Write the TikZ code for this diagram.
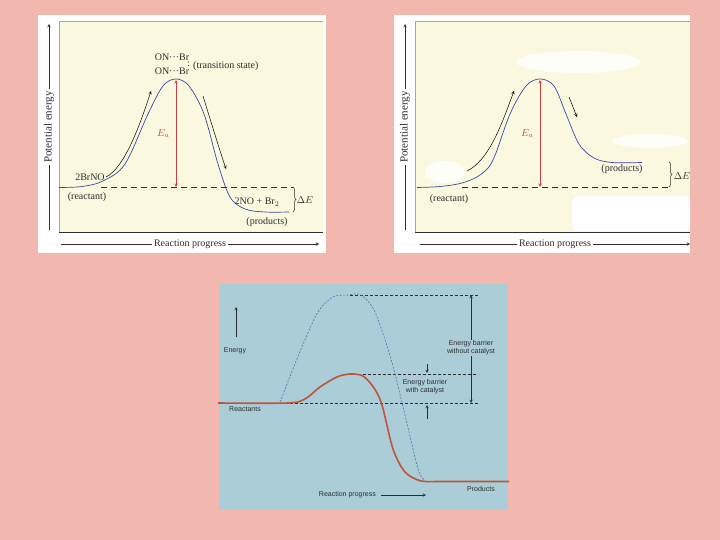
\documentclass[tikz,border=0pt]{standalone}
\usepackage{fontspec}
\setmainfont{Liberation Serif}
\setsansfont{Liberation Sans}
\usetikzlibrary{positioning,arrows,calc,decorations.pathreplacing}

\definecolor{slidebg}{RGB}{242,184,176}
\definecolor{creambg}{RGB}{251,248,224}
\definecolor{panelblue}{RGB}{170,205,215}
\definecolor{curveblue}{RGB}{55,75,165}
\definecolor{eared}{RGB}{195,65,70}
\definecolor{catred}{RGB}{190,85,60}
\definecolor{inkgray}{RGB}{45,45,45}

\begin{document}
\begin{tikzpicture}[x=1pt,y=-1pt,
  axisline/.style={->,>=stealth,line width=0.5pt,inkgray},
  axislab/.style={fill=white,inner sep=2pt,font=\fontsize{10}{11}\selectfont,text=inkgray},
  yaxislab/.style={axislab,rotate=90,font=\fontsize{11}{12}\selectfont},
  curve/.style={curveblue,line width=0.7pt},
  lvl/.style={inkgray,line width=0.9pt,dash pattern=on 6pt off 4pt},
  ea/.style={<->,>=stealth,eared,line width=0.6pt},
  move/.style={->,>=stealth,line width=0.5pt,black},
  lab/.style={font=\fontsize{10}{11}\selectfont,text=inkgray,inner sep=1pt},
  dbrace/.style={decorate,decoration={brace,amplitude=3pt},inkgray,line width=0.5pt},
  sflab/.style={font=\sffamily\fontsize{7}{8}\selectfont,text=inkgray,align=center,inner sep=1pt},
  cutline/.style={inkgray,line width=0.5pt,dash pattern=on 3pt off 2pt},
  barrier/.style={->,>=stealth,line width=0.5pt,inkgray},
]

\fill[slidebg] (0,0) rectangle (720,540);
\useasboundingbox (0,0) rectangle (720,540);

% === PANEL 1: exothermic, 2BrNO ===
\fill[white] (38,15) rectangle (326,253);
\fill[creambg] (59,21) rectangle (323,232);
\draw[gray!70,line width=0.4pt] (59,232) -- (59,21) -- (323,21);
\draw[inkgray,line width=0.8pt] (59,232) -- (323,232);

\coordinate (ybot1) at (49,230);
\coordinate (ytop1) at (49,24);
\coordinate (xlft1) at (61,244);
\coordinate (xrgt1) at (319,244);
\draw[axisline] (ybot1) -- node[yaxislab] {Potential energy} (ytop1);
\draw[axisline] (xlft1) -- node[axislab] {Reaction progress} (xrgt1);

\draw[curve] plot[smooth,tension=0.55] coordinates {(59,187.5) (82,186.5) (103,181) (125,164) (148,114) (163,86) (176,79) (189,86) (204,114) (218,164) (230,197) (245,209) (265,212) (289,212)};
\coordinate (top1) at (176,80);
\coordinate (base1) at (176,187);
\coordinate (lvlA1) at (101,187);
\coordinate (lvlB1) at (293,187);
\draw[lvl] (lvlA1) -- (lvlB1);
\draw[ea] (base1) -- node[left=3pt,pos=0.5,text=eared,font=\fontsize{10}{11}\selectfont] {$E_a$} (top1);

\coordinate (up1s) at (106,177);
\coordinate (up1e) at (151,91);
\coordinate (dn1s) at (203,96);
\coordinate (dn1e) at (226,169);
\draw[move] (up1s) .. controls (124,168) and (139,128) .. (up1e);
\draw[move] (dn1s) .. controls (211,122) and (219,148) .. (dn1e);

\node[lab] (ts1) at (172,57) {ON···Br};
\node[lab] (ts2) at (172,71) {ON···Br};
\node[lab,inner sep=0pt] (tsdot) at (188.5,64.5) {:};
\node[lab,anchor=west] (tslab) at (192,66) {(transition state)};
\node[lab] (reag1) at (90,177) {2BrNO};
\node[lab] (reac1) at (87,197) {(reactant)};
\node[lab] (prod1) at (257,202) {2NO + Br$_2$};
\node[lab] (prodl1) at (267,222) {(products)};

\coordinate (dEt1) at (293,187);
\coordinate (dEb1) at (293,212);
\draw[dbrace] (dEt1) -- (dEb1);
\node[lab] (dE1) at (305,200) {$\Delta E$};

% === PANEL 2: endothermic ===
\fill[white] (394,15) rectangle (690,253);
\fill[creambg] (415,21) rectangle (690,232);
\draw[gray!70,line width=0.4pt] (415,232) -- (415,21) -- (690,21);

% erased patches
\fill[white!80!creambg] (578,62) ellipse (62pt and 11pt);
\fill[white!80!creambg] (445,172) ellipse (20pt and 11pt);
\fill[white!80!creambg] (650,141) ellipse (38pt and 7pt);
\fill[white,rounded corners=6pt] (572,196) rectangle (690,231);
\draw[inkgray,line width=0.8pt] (415,232) -- (690,232);

\coordinate (ybot2) at (405,230);
\coordinate (ytop2) at (405,24);
\coordinate (xlft2) at (420,244);
\coordinate (xrgt2) at (690,244);
\draw[axisline] (ybot2) -- node[yaxislab] {Potential energy} (ytop2);
\draw[axisline] (xlft2) -- node[axislab] {Reaction progress} (xrgt2);

\draw[curve] plot[smooth,tension=0.55] coordinates {(417,187.5) (440,186.5) (462,183) (480,175) (493,160) (510,114) (526,86) (540,79) (554,86) (566,114) (579,144) (594,158) (612,162.5) (642,162.5)};
\coordinate (top2) at (540,80);
\coordinate (base2) at (540,187);
\coordinate (lvlA2) at (462,187);
\coordinate (lvlB2) at (669,187);
\draw[lvl] (lvlA2) -- (lvlB2);
\draw[ea] (base2) -- node[left=3pt,pos=0.5,text=eared,font=\fontsize{10}{11}\selectfont] {$E_a$} (top2);

\coordinate (up2s) at (467,171);
\coordinate (up2e) at (514,91);
\coordinate (dn2s) at (569,97);
\coordinate (dn2e) at (577,117);
\draw[move] (up2s) .. controls (489,160) and (501,126) .. (up2e);
\draw[move] (dn2s) -- (dn2e);

\node[lab] (reac2) at (449,199) {(reactant)};
\node[lab] (prodl2) at (622,169) {(products)};
\coordinate (dEt2) at (669,162);
\coordinate (dEb2) at (669,187);
\draw[dbrace] (dEt2) -- (dEb2);
\node[lab] (dE2) at (682,176) {$\Delta E$};

% === PANEL 3: with and without catalyst ===
\fill[panelblue] (219,284) rectangle (508,510);

\coordinate (top3) at (350,295);
\coordinate (mid3) at (358,374);
\coordinate (bas3) at (290,403);
\coordinate (edge3) at (478,295);
\coordinate (edgem3) at (478,374);
\coordinate (edgeb3) at (478,403);
\draw[cutline] (top3) -- (edge3);
\draw[cutline] (mid3) -- (edgem3);
\draw[cutline] (bas3) -- (edgeb3);

\draw[curveblue!80,line width=0.6pt,dash pattern=on 2pt off 1.5pt] plot[smooth,tension=0.5] coordinates {(280,402) (301,349) (318,312) (333,297) (348,295) (361,295) (375,312) (391,359) (405,415) (418,469) (425,480.5)};
\draw[catred,line width=1.6pt] plot[smooth,tension=0.5] coordinates {(218,403) (288,403) (305,399) (320,387) (337,377) (350,374) (363,376) (374,388) (382,405) (393,449) (405,472) (421,481) (440,481.5) (509,481.5)};

\node[sflab] (without) at (471,348) {Energy barrier\\without catalyst};
\draw[barrier] (without.north) -- (edge3 -| without.north);
\draw[barrier] (without.south) -- (edgeb3 -| without.south);

\node[sflab] (with) at (425,387) {Energy barrier\\with catalyst};
\coordinate (wdn) at (427,364);
\coordinate (wdne) at (427,373);
\coordinate (wup) at (427,419);
\coordinate (wupe) at (427,405);
\draw[barrier] (wdn) -- (wdne);
\draw[barrier] (wup) -- (wupe);

\node[sflab] (energy3) at (235,351) {Energy};
\coordinate (ebot3) at (236,337);
\coordinate (etop3) at (236,307);
\draw[barrier] (ebot3) -- (etop3);

\node[sflab] (reac3) at (245,409) {Reactants};
\node[sflab] (prod3) at (481,489) {Products};
\node[sflab,anchor=east] (rp3) at (377,495) {Reaction progress};
\coordinate (rpe3) at (426,495);
\draw[barrier] ([xshift=4pt]rp3.east) -- (rpe3);

\end{tikzpicture}
\end{document}
